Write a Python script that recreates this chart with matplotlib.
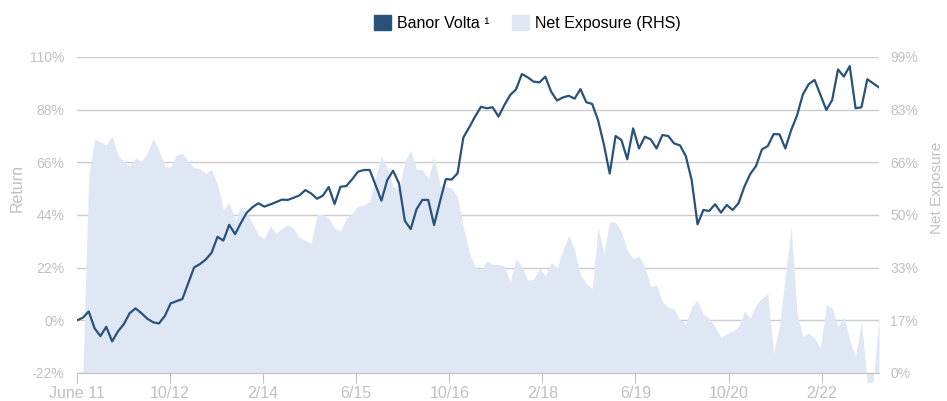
import numpy as np
import matplotlib
matplotlib.use("Agg")
import matplotlib.pyplot as plt
from matplotlib.patches import Patch

plt.rcParams["font.family"] = ["Liberation Sans", "DejaVu Sans"]

# monthly values, June 2011 onwards
banor_volta = [
    0.0, 1.1, 3.7, -3.3, -6.6, -2.7, -8.8, -4.6, -1.6, 3.0,
    5.0, 3.0, 0.7, -0.8, -1.3, 1.8, 7.1, 8.0, 8.9, 15.5,
    22.1, 23.5, 25.4, 28.3, 34.9, 33.3, 39.9, 36.0, 40.7, 45.0,
    47.3, 48.9, 47.5, 48.4, 49.4, 50.4, 50.3, 51.2, 52.2, 54.4,
    53.0, 50.8, 52.1, 55.7, 48.6, 55.8, 56.1, 58.9, 62.1, 62.8,
    62.8, 56.5, 50.0, 58.6, 62.5, 57.2, 41.6, 38.1, 46.4, 50.3,
    50.3, 39.8, 49.6, 59.0, 58.8, 61.4, 76.4, 80.6, 85.1, 89.2,
    88.6, 89.0, 85.1, 89.9, 94.1, 96.5, 102.9, 101.5, 99.7, 99.4,
    101.8, 95.5, 91.8, 93.1, 93.8, 92.6, 96.6, 91.1, 90.4, 83.7,
    73.5, 61.3, 77.0, 75.3, 67.3, 80.2, 71.8, 76.7, 75.6, 71.8,
    77.4, 77.0, 73.9, 73.1, 68.6, 58.6, 40.1, 46.1, 45.7, 48.5,
    45.0, 48.2, 46.1, 48.9, 55.8, 61.1, 64.5, 71.4, 72.8, 77.8,
    77.7, 71.8, 79.5, 85.6, 94.4, 98.7, 100.4, 94.1, 87.9, 92.0,
    104.8, 101.8, 106.2, 88.6, 89.0, 100.7, 99.0, 97.3,
]

net_exposure = [
    0.0, 0.5, 61.5, 73.2, 72.4, 71.4, 74.3, 68.3, 66.4, 64.6,
    67.3, 66.4, 68.8, 73.5, 69.9, 64.6, 64.6, 68.2, 68.8, 66.4,
    64.4, 64.1, 62.5, 63.7, 58.9, 51.3, 53.4, 47.9, 52.3, 50.0,
    46.9, 43.2, 42.2, 46.1, 43.8, 45.3, 46.4, 45.3, 42.5, 41.5,
    40.6, 49.7, 49.7, 48.5, 45.3, 44.5, 48.5, 50.0, 52.4, 52.6,
    53.7, 61.5, 67.8, 64.4, 58.4, 57.5, 66.2, 69.9, 63.9, 63.6,
    61.0, 67.6, 58.9, 58.4, 57.9, 55.2, 45.9, 37.8, 33.3, 32.3,
    35.1, 34.1, 34.1, 33.5, 28.6, 35.9, 33.3, 29.1, 29.4, 32.8,
    30.4, 34.6, 32.8, 38.5, 43.2, 38.5, 30.7, 28.1, 26.5, 45.6,
    37.5, 47.5, 47.1, 44.3, 38.5, 35.9, 36.5, 33.3, 27.1, 27.6,
    22.4, 20.5, 20.2, 16.6, 15.6, 20.8, 22.9, 18.4, 17.1, 14.5,
    11.2, 12.4, 13.2, 14.5, 19.5, 17.1, 21.3, 23.4, 24.8, 6.2,
    15.0, 30.2, 45.9, 18.7, 11.4, 12.6, 10.9, 7.7, 21.5, 20.3,
    14.5, 17.7, 10.3, 5.1, 16.1, -3.0, -2.7, 17.5,
]

x_labels = ["June 11", "10/12", "2/14", "6/15", "10/16", "2/18", "6/19", "10/20", "2/22"]
left_ticks = [-22, 0, 22, 44, 66, 88, 110]
right_ticks = [0, 16.5, 33, 49.5, 66, 82.5, 99]
right_labels = ["0%", "17%", "33%", "50%", "66%", "83%", "99%"]

line_color = "#29527a"
area_color = "#e0e7f4"
grey = "#c0c0c0"

x = np.arange(len(banor_volta))

fig = plt.figure(figsize=(9.47, 4.01), dpi=100)
ax = fig.add_axes([77 / 947, 1 - 373 / 401, 802 / 947, 316 / 401])
ax2 = ax.twinx()

# area + grid live on the lower axes, line on top
ax.set_zorder(ax2.get_zorder() + 1)
ax.patch.set_visible(False)

ax2.fill_between(x, 0, net_exposure, color=area_color, linewidth=0, clip_on=False, zorder=2)
ax2.set_ylim(0, 99)
ax2.set_yticks(right_ticks)
ax2.set_yticklabels(right_labels)
ax2.grid(axis="y", color="#cccccc", linewidth=1)
ax2.set_axisbelow(True)

ax.plot(x, banor_volta, color=line_color, linewidth=1.6)
ax.set_ylim(-22, 110)
ax.set_yticks(left_ticks)
ax.set_yticklabels([f"{v}%" for v in left_ticks])
ax.set_xlim(0, len(x) - 1)
ax.set_xticks(np.arange(len(x_labels)) * 15.9)
ax.set_xticklabels(x_labels)

for a in (ax, ax2):
    for s in a.spines.values():
        s.set_visible(False)
ax.spines["bottom"].set_visible(True)
ax.spines["bottom"].set_color(grey)

ax.tick_params(axis="x", length=7, color=grey, labelcolor=grey, labelsize=11.5, pad=2)
ax.tick_params(axis="y", length=0, labelcolor=grey, labelsize=10, pad=9)
ax2.tick_params(axis="y", length=0, labelcolor=grey, labelsize=10, pad=8)

fig.text(17 / 947, 1 - 188 / 401, "Return", rotation=90, ha="center", va="center",
         color=grey, fontsize=11.5)
fig.text(937 / 947, 1 - 188 / 401, "Net Exposure", rotation=90, ha="center", va="center",
         color=grey, fontsize=11)

handles = [Patch(color=line_color), Patch(color=area_color)]
fig.legend(handles, ["Banor Volta \u00b9", "Net Exposure (RHS)"], loc="center",
           bbox_to_anchor=(527 / 947, 1 - 23 / 401), ncol=2, frameon=False,
           fontsize=11.5, handlelength=1.1, handleheight=1.1, handletextpad=0.35,
           columnspacing=1.4)

fig.savefig("out.png", dpi=100)
